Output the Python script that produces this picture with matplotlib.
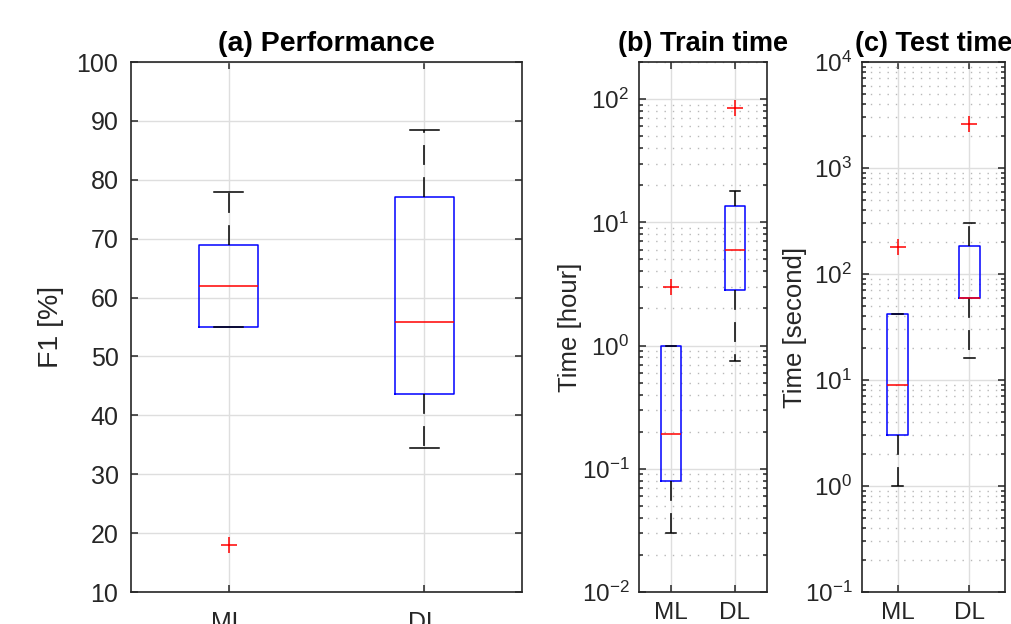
import matplotlib
matplotlib.use('Agg')
import matplotlib.pyplot as plt
import numpy as np
from matplotlib.ticker import LogLocator, NullFormatter, FixedLocator

plt.rcParams['font.family'] = ['Liberation Sans', 'DejaVu Sans']
plt.rcParams['mathtext.fontset'] = 'custom'
plt.rcParams['mathtext.rm'] = 'Liberation Sans'

groups = ['ML', 'DL']

# (a) F1 [%]
f1_med = [62.0, 55.8]
f1_q1 = [55.0, 43.7]
f1_q3 = [69.0, 77.0]
f1_lo = [55.0, 34.5]
f1_hi = [78.0, 88.5]
f1_out = [[18.0], []]

# (b) train time [hour]
tr_med = [0.19, 6.0]
tr_q1 = [0.08, 2.8]
tr_q3 = [1.0, 13.5]
tr_lo = [0.03, 0.75]
tr_hi = [1.0, 18.0]
tr_out = [[3.0], [85.0]]

# (c) test time [second]
te_med = [9.0, 60.0]
te_q1 = [3.0, 60.0]
te_q3 = [42.0, 185.0]
te_lo = [1.0, 16.0]
te_hi = [42.0, 300.0]
te_out = [[180.0], [2600.0]]

axcol = '#262626'
W = 1011
H = 624


def make_stats(med, q1, q3, lo, hi, out):
    st = []
    for i in range(len(groups)):
        st.append(dict(med=med[i], q1=q1[i], q3=q3[i], whislo=lo[i],
                       whishi=hi[i], fliers=out[i], label=groups[i]))
    return st


def draw(ax, stats, fs):
    ax.bxp(stats, positions=[1, 2], widths=0.3, capwidths=0.15,
           boxprops=dict(color='#0000ff', lw=1.1),
           medianprops=dict(color='#ff0000', lw=1.1),
           whiskerprops=dict(color='black', lw=1.1, linestyle=(0, (13, 8))),
           capprops=dict(color='black', lw=1.1),
           flierprops=dict(marker='+', markeredgecolor='#ff0000', markersize=12,
                           markeredgewidth=1.1, linestyle='none'),
           zorder=3)
    ax.set_xlim(0.5, 2.5)
    ax.xaxis.set_major_locator(FixedLocator([1, 2]))
    ax.set_xticklabels(groups)
    ax.grid(True, which='major', color='#dedede', lw=1.0, zorder=0)
    for s in ax.spines.values():
        s.set_color(axcol)
        s.set_linewidth(1.2)
    ax.tick_params(which='both', direction='in', top=True, right=True,
                   colors=axcol, labelsize=fs, width=1.1)
    ax.tick_params(which='major', length=5)
    ax.tick_params(which='minor', length=3)
    ax.set_axisbelow(True)


def log_axis(ax, lo, hi):
    ax.set_yscale('log')
    ax.set_ylim(lo, hi)
    ax.yaxis.set_major_locator(LogLocator(base=10, numticks=20))
    ax.yaxis.set_minor_locator(LogLocator(base=10, subs=np.arange(2, 10), numticks=20))
    ax.yaxis.set_minor_formatter(NullFormatter())
    ax.grid(True, which='minor', axis='y', color='#b8b8b8', lw=1.0,
            linestyle=(0, (1, 5)), zorder=0)


fig = plt.figure(figsize=(W / 100, H / 100), dpi=100)
ax1 = fig.add_axes([131 / W, 32 / H, 391 / W, 530 / H])
ax2 = fig.add_axes([639 / W, 32 / H, 128 / W, 530 / H])
ax3 = fig.add_axes([862 / W, 32 / H, 143 / W, 530 / H])

# (a)
draw(ax1, make_stats(f1_med, f1_q1, f1_q3, f1_lo, f1_hi, f1_out), 18)
ax1.set_ylim(10, 100)
ax1.set_yticks(np.arange(10, 101, 10))
ax1.tick_params(axis='y', pad=9)
ax1.tick_params(axis='x', pad=14)
ax1.set_ylabel('F1 [%]', fontsize=20.5, color=axcol, labelpad=9)
ax1.set_title('(a) Performance', fontsize=20.5, fontweight='bold', pad=8)

# (b)
draw(ax2, make_stats(tr_med, tr_q1, tr_q3, tr_lo, tr_hi, tr_out), 17.5)
log_axis(ax2, 0.01, 200)
ax2.tick_params(axis='y', pad=7)
ax2.tick_params(axis='x', pad=7)
ax2.set_ylabel('Time [hour]', fontsize=18.5, color=axcol, labelpad=0)
ax2.set_title('(b) Train time', fontsize=19.5, fontweight='bold', pad=8)

# (c)
draw(ax3, make_stats(te_med, te_q1, te_q3, te_lo, te_hi, te_out), 17.5)
log_axis(ax3, 0.1, 10000)
ax3.tick_params(axis='y', pad=7)
ax3.tick_params(axis='x', pad=7)
ax3.set_ylabel('Time [second]', fontsize=18.5, color=axcol, labelpad=-2)
ax3.set_title('(c) Test time', fontsize=19.5, fontweight='bold', pad=8)

fig.savefig('out.png', dpi=100)
plt.close()
